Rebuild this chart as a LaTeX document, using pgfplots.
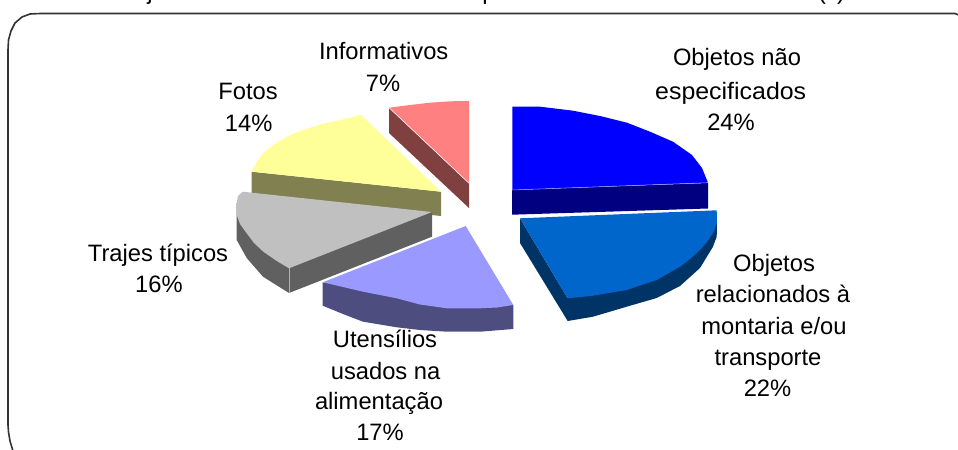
\documentclass[border=0pt]{standalone}
\usepackage{graphicx}
\usepackage{pgfplots}
\pgfplotsset{compat=1.18}
\usepackage{fontspec}
\setmainfont{Liberation Sans}
\definecolor{c1}{HTML}{0000FF}\definecolor{s1}{HTML}{000080}
\definecolor{c2}{HTML}{0066CC}\definecolor{s2}{HTML}{003366}
\definecolor{c3}{HTML}{9999FF}\definecolor{s3}{HTML}{4D4D80}
\definecolor{c4}{HTML}{C0C0C0}\definecolor{s4}{HTML}{606060}
\definecolor{c5}{HTML}{FFFF99}\definecolor{s5}{HTML}{808050}
\definecolor{c6}{HTML}{FF8080}\definecolor{s6}{HTML}{804040}
\begin{document}
\begin{tikzpicture}
\clip (0,0) rectangle (718.5pt,337.5pt);
\begin{axis}[at={(0,0)},anchor=south west,scale only axis,width=718.5pt,height=337.5pt,
  xmin=0,xmax=958,ymin=0,ymax=450,y dir=reverse,hide axis,no markers,
  every axis plot/.append style={draw=none,line width=0pt},
  ]
% frame
\addplot[draw=black!80,line width=1.2pt,fill=none] coordinates {(960,15.5) (955,13.5) (40,13.5) (30,14) (22,17) (15,23) (11,31) (8.5,40) (8,50) (8,425) (8.5,432) (10,441) (13,451)};
% slice 6 informativos
\addplot[fill=s6] coordinates {(389,107.7) (469,183.3) (469,208) (389,133) (389,107.7)};
\addplot[fill=c6] coordinates {(469,183.3) (469,101) (450,101.3) (430,102.7) (410,105) (389,107.7) (469,183.3)};
\addplot[draw=white,line width=0.4pt,fill=none] coordinates {(389,107.7) (469,183.3)};
% slice 5 fotos
\addplot[fill=s5] coordinates {(251.7,171.7) (441,191.7) (441,216) (251.7,195.7) (251.7,171.7)};
\addplot[fill=c5] coordinates {(441,191.7) (251.7,171.7) (256,163) (263,153) (274,144.5) (286.7,136.7) (300,131) (313,126.7) (326,123) (340,120) (361,115) (441,191.7)};
% slice 4 trajes
\addplot[fill=s4] coordinates {(432,212) (432,236.7) (289,293) (263,276.7) (246.7,258) (236.7,240) (236.7,203) (432,212)};
\addplot[fill=c4] coordinates {(432,212) (242.7,191.7) (238,196) (236.7,203.3) (236.7,215) (240,224) (246.7,233.3) (254,243) (263.3,251.7) (276,260.5) (289,268.3) (432,212)};
\addplot[draw=white!70!black,line width=0.4pt,fill=none] coordinates {(289,268.3) (289,293)};
% slice 3 utensilios
\addplot[fill=s3] coordinates {(322.7,282.3) (322.7,305.7) (343,314) (363,321.7) (396.7,327.3) (420,330) (446.7,331.7) (480,331.7) (513.3,329) (513.3,305) (322.7,282.3)};
\addplot[fill=c3] coordinates {(465.7,226) (513.3,305) (497,307.5) (480,308.3) (446.7,308.3) (420,304.5) (396.7,298.3) (363,291.7) (343,287) (322.7,282.3) (465.7,226)};
% slice 2 montaria
\addplot[fill=s2] coordinates {(520,218.3) (567.7,298.3) (717,223) (716.7,236.7) (713,246.7) (700,268) (680,286) (656.7,298) (626.7,306.7) (593,316.7) (567.7,321) (520,243) (520,218.3)};
\addplot[fill=c2] coordinates {(520,218.3) (716.7,210.3) (717,223) (713,233) (707,242) (700,250) (690,259) (680,266.7) (656.7,280) (626.7,290) (593,295.7) (567.7,298.3) (520,218.3)};
% slice 1 objetos
\addplot[fill=s1] coordinates {(512,190) (708,183) (708,208.5) (512,214.7) (512,190)};
\addplot[fill=c1] coordinates {(512.3,190) (512.3,106.7) (540,106.7) (573,110.7) (600,116) (627,122.7) (650,131.7) (673,141.7) (692,155) (702,168) (708,182.7) (512.3,190)};
\addplot[draw=white!60!blue,line width=0.4pt,fill=none] coordinates {(512.3,190) (708,182.7)};
% labels
\def\lab#1#2#3{\node[anchor=base,font=\fontsize{17.8}{24.4}\selectfont,inner sep=0pt] at (axis cs:#1,#2) {#3};}
\lab{737}{65.7}{Objetos não}
\lab{730.7}{99}{\scalebox{1.05}[1]{especificados}}
\lab{731}{130}{24\%}
\lab{383.7}{59}{Informativos}
\lab{383}{91}{7\%}
\lab{248}{99.3}{Fotos}
\lab{248.7}{131.7}{14\%}
\lab{158}{261}{Trajes típicos}
\lab{159}{292.7}{16\%}
\lab{385}{347.7}{Utensílios}
\lab{385.6}{379}{usados na}
\lab{379}{409}{alimentação}
\lab{380}{440.7}{17\%}
\lab{774}{271}{Objetos}
\lab{773}{302.7}{relacionados à}
\lab{774}{334}{montaria e/ou}
\lab{768}{365}{transporte}
\lab{767.5}{396}{22\%}
\def\frag#1#2{\node[font=\fontsize{17.8}{20}\selectfont,inner sep=0pt,anchor=base] at (axis cs:#1,-1) {#2};}
\frag{150}{j}
\frag{489}{p}
\frag{822}{(}
\frag{841}{)}
\end{axis}
\end{tikzpicture}
\end{document}
